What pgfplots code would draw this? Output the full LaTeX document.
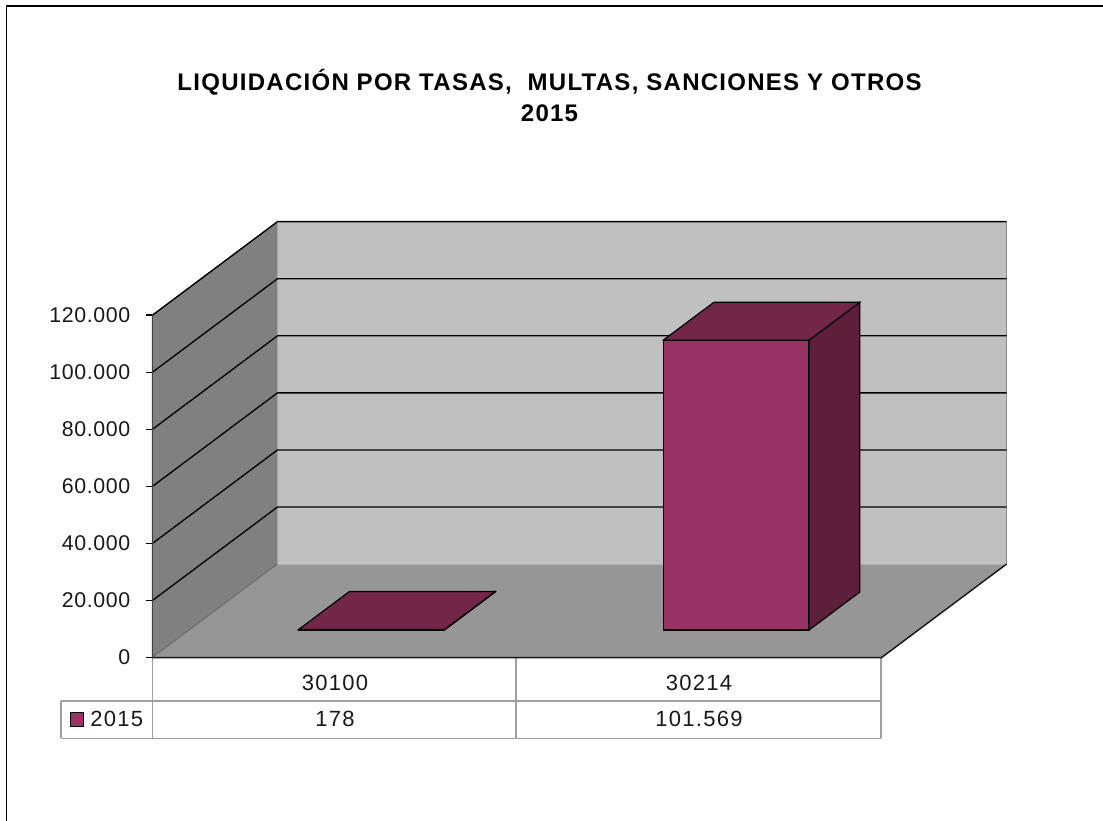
\documentclass[border=0pt]{standalone}
\usepackage{pgfplots}
\pgfplotsset{compat=1.18}
\usepackage{fontspec}
\setmainfont{Liberation Sans}
\newfontfamily\widetick[LetterSpace=3]{Liberation Sans}
\newfontfamily\widetab[LetterSpace=6]{Liberation Sans}
\newfontfamily\widetitle[LetterSpace=5.3]{Liberation Sans Bold}
\definecolor{wallside}{HTML}{808080}
\definecolor{wallback}{HTML}{C0C0C0}
\definecolor{floorc}{HTML}{969696}
\definecolor{barfront}{HTML}{993366}
\definecolor{bartop}{HTML}{732649}
\definecolor{barside}{HTML}{5E1F3D}
\definecolor{tablec}{HTML}{A0A0A0}
\begin{document}
\begin{tikzpicture}[x=0.75pt,y=0.75pt]
\path[use as bounding box] (0,0) rectangle (1103,821);
\fill[white] (0,0) rectangle (1103,821);
\draw[black,line width=1.1pt] (6.5,0) -- (6.5,815) -- (1103,815);
\node[align=center,font=\widetitle\fontsize{18}{23}\selectfont] at (549.5,725.5) {LIQUIDACIÓN POR TASAS,\ \ MULTAS, SANCIONES Y OTROS\\2015};
% data table
\draw[tablec,line width=0.9pt] (152.5,162.5) -- (152.5,82.5) (516,162.5) -- (516,82.5) (881,162.5) -- (881,82.5)
  (61,120) -- (881,120) (61,82.5) -- (881,82.5) (61,120) -- (61,82.5);
\begin{axis}[
  at={(114.375pt,122.6pt)}, anchor=origin,
  x={(273.4pt,0pt)}, y={(93.75pt,70.1pt)}, z={(0pt,0.0021375pt)},
  xmin=0, xmax=2, ymin=0, ymax=1, zmin=0, zmax=120000,
  clip=false,
  hide x axis, hide y axis,
  z axis line style={draw=none},
  ztick={0,20000,40000,60000,80000,100000,120000},
  zticklabels={0,20.000,40.000,60.000,80.000,100.000,120.000},
  ztick pos=left,
  scaled z ticks=false,
  major tick length=0pt,
  z tick label style={anchor=east,xshift=-16.5pt,yshift=0pt,inner sep=0pt,text=black!90,
     font=\widetick\fontsize{16}{16}\selectfont},
  every axis plot/.append style={no markers,line join=miter},
]
% left wall
\addplot3[fill=wallside,draw=black!70,line width=0.75pt] coordinates {(0,0,0)(0,1,0)(0,1,120000)(0,0,120000)} -- cycle;
% back wall
\addplot3[fill=wallback,draw=none] coordinates {(0,1,0)(2,1,0)(2,1,120000)(0,1,120000)} -- cycle;
\addplot3[draw=black!45,line width=0.75pt] coordinates {(2,1,0)(2,1,120000)};
\addplot3[draw=black!35,line width=0.75pt] coordinates {(0,1,120000)(0,1,0)};
% floor
\addplot3[fill=floorc,draw=none] coordinates {(0,0,0)(2,0,0)(2,1,0)(0,1,0)} -- cycle;
\addplot3[draw=black!55,line width=0.6pt] coordinates {(0,0,0)(0,1,0)};
\addplot3[draw=black!30,line width=0.6pt] coordinates {(0,1,0)(2,1,0)};
\addplot3[draw=black!90,line width=1.1pt] coordinates {(0,0,0)(2,0,0)(2,1,0)};
% grid lines with tick marks
\pgfplotsinvokeforeach{0,20000,40000,60000,80000,100000,120000}{
  \addplot3[black,line width=1pt] coordinates {(-0.0165,0,#1)(0,0,#1)};
}
\pgfplotsinvokeforeach{20000,40000,60000,80000,100000,120000}{
  \addplot3[black,line width=1pt] coordinates {(0,0,#1)(0,1,#1)(2,1,#1)};
}
\addplot3[black!75,line width=0.9pt] coordinates {(0,0,0)(0,0,120000)};
% bar 30100 = 178
\addplot3[fill=barfront,draw=black,line width=0.9pt] coordinates {(0.3,0.295,0)(0.7,0.295,0)(0.7,0.295,178)(0.3,0.295,178)} -- cycle;
\addplot3[fill=barside,draw=black,line width=0.9pt] coordinates {(0.7,0.295,0)(0.7,0.7,0)(0.7,0.7,178)(0.7,0.295,178)} -- cycle;
\addplot3[fill=bartop,draw=black,line width=0.9pt] coordinates {(0.3,0.295,178)(0.7,0.295,178)(0.7,0.7,178)(0.3,0.7,178)} -- cycle;
% bar 30214 = 101569
\addplot3[fill=barfront,draw=black,line width=0.9pt] coordinates {(1.3,0.295,0)(1.7,0.295,0)(1.7,0.295,101569)(1.3,0.295,101569)} -- cycle;
\addplot3[fill=barside,draw=black,line width=0.9pt] coordinates {(1.7,0.295,0)(1.7,0.7,0)(1.7,0.7,101569)(1.7,0.295,101569)} -- cycle;
\addplot3[fill=bartop,draw=black,line width=0.9pt] coordinates {(1.3,0.295,101569)(1.7,0.295,101569)(1.7,0.7,101569)(1.3,0.7,101569)} -- cycle;
\end{axis}
\begin{scope}[every node/.style={font=\widetab\fontsize{16.5}{16.5}\selectfont,inner sep=0pt,text=black!90}]
\node at (335,138) {30100};
\node at (699,138) {30214};
\node at (335,102) {178};
\node at (699,102) {101.569};
\node[anchor=west] at (90,102) {2015};
\end{scope}
\draw[black,fill=barfront,line width=0.7pt] (70,108.5) rectangle (83,95);
\end{tikzpicture}
\end{document}
